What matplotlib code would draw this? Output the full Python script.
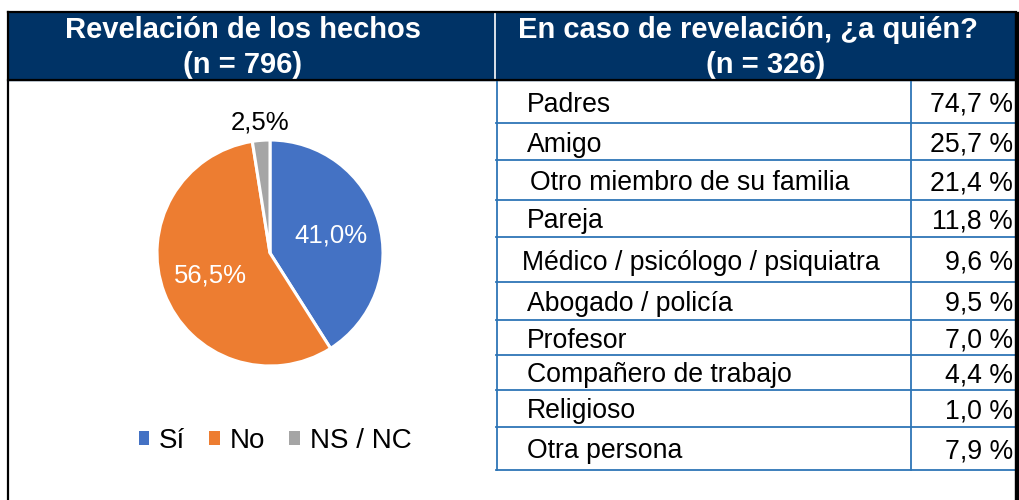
import matplotlib

matplotlib.use("Agg")
import matplotlib.pyplot as plt
from matplotlib.patches import Rectangle, Patch

plt.rcParams["font.family"] = ["Liberation Sans", "DejaVu Sans"]

# data
pie_names = ["Sí", "No", "NS / NC"]
pie_values = [41.0, 56.5, 2.5]
pie_colors = ["#4472C4", "#ED7D31", "#A5A5A5"]

left_title = ["Revelación de los hechos", "(n = 796)"]
right_title = ["En caso de revelación, ¿a quién?", "(n = 326)"]

who_labels = [
    "Padres",
    "Amigo",
    "Otro miembro de su familia",
    "Pareja",
    "Médico / psicólogo / psiquiatra",
    "Abogado / policía",
    "Profesor",
    "Compañero de trabajo",
    "Religioso",
    "Otra persona",
]
who_values = [74.7, 25.7, 21.4, 11.8, 9.6, 9.5, 7.0, 4.4, 1.0, 7.9]

# layout in pixels
W, H = 1019, 500
NAVY = "#003366"
LINE_BLUE = "#2E75B6"
row_edges = [80, 123, 160, 200, 237, 282, 320, 355, 390, 427, 470]
label_shift = {2: 3, 4: -5}


def pct(v):
    return f"{v:.1f}".replace(".", ",")


fig = plt.figure(figsize=(W / 100, H / 100), dpi=100)
bg = fig.add_axes([0, 0, 1, 1])
bg.set_xlim(0, W)
bg.set_ylim(H, 0)
bg.axis("off")

# header band
bg.add_patch(Rectangle((8, 12), 1008, 68, color=NAVY, zorder=1))
bg.plot([495, 495], [12, 80], color="white", lw=1.2, zorder=2)
for i, line in enumerate(left_title):
    bg.text(243, 30 + 35 * i, line, color="white", fontsize=21,
            fontweight="bold", ha="center", va="center", zorder=3)
bg.text(748, 30, right_title[0], color="white", fontsize=21,
        fontweight="bold", ha="center", va="center", zorder=3)
bg.text(766, 65, right_title[1], color="white", fontsize=21,
        fontweight="bold", ha="center", va="center", zorder=3)

# table
for y in row_edges[1:]:
    bg.plot([496, 1016], [y, y], color=LINE_BLUE, lw=1.3, zorder=2)
for x in (497, 911):
    bg.plot([x, x], [80, row_edges[-1]], color=LINE_BLUE, lw=1.3, zorder=2)
for i, (lab, val) in enumerate(zip(who_labels, who_values)):
    yc = (row_edges[i] + row_edges[i + 1]) / 2 + 3
    bg.text(527 + label_shift.get(i, 0), yc, lab, fontsize=19.2,
            ha="left", va="center", zorder=3)
    bg.text(1013, yc, f"{pct(val)} %", fontsize=19.2,
            ha="right", va="center", zorder=3)

# outer frame
bg.plot([8, 1016], [12, 12], color="black", lw=1.6, zorder=4)
bg.plot([8, 1016], [80, 80], color="black", lw=1.6, zorder=4)
bg.plot([8, 8], [12, H], color="black", lw=1.6, zorder=4)
bg.add_patch(Rectangle((1015, 12), 4, H, color="black", zorder=4))

# pie
cx, cy, r = 270, 253, 113
pie_ax = fig.add_axes([(cx - r) / W, 1 - (cy + r) / H, 2 * r / W, 2 * r / H])
wedges, _, autotexts = pie_ax.pie(
    pie_values, colors=pie_colors, startangle=90, counterclock=False,
    autopct=lambda p: pct(p) + "%", pctdistance=0.56,
    wedgeprops=dict(edgecolor="white", linewidth=2.2),
    textprops=dict(color="white", fontsize=18.5),
)
autotexts[2].set_color("black")
x2, y2 = autotexts[2].get_position()
autotexts[2].set_position((x2 / 0.56 * 1.16, y2 / 0.56 * 1.16))
pie_ax.set_xlim(-1, 1)
pie_ax.set_ylim(-1, 1)
pie_ax.set_aspect("equal")

handles = [Patch(facecolor=c, edgecolor="none") for c in pie_colors]
fig.legend(handles, pie_names, loc="center", bbox_to_anchor=(275 / W, 1 - 441 / H),
           ncol=3, frameon=False, fontsize=20, handlelength=0.37, handleheight=0.37,
           handletextpad=0.36, columnspacing=0.87, borderpad=0)

fig.savefig("out.png", dpi=100)
